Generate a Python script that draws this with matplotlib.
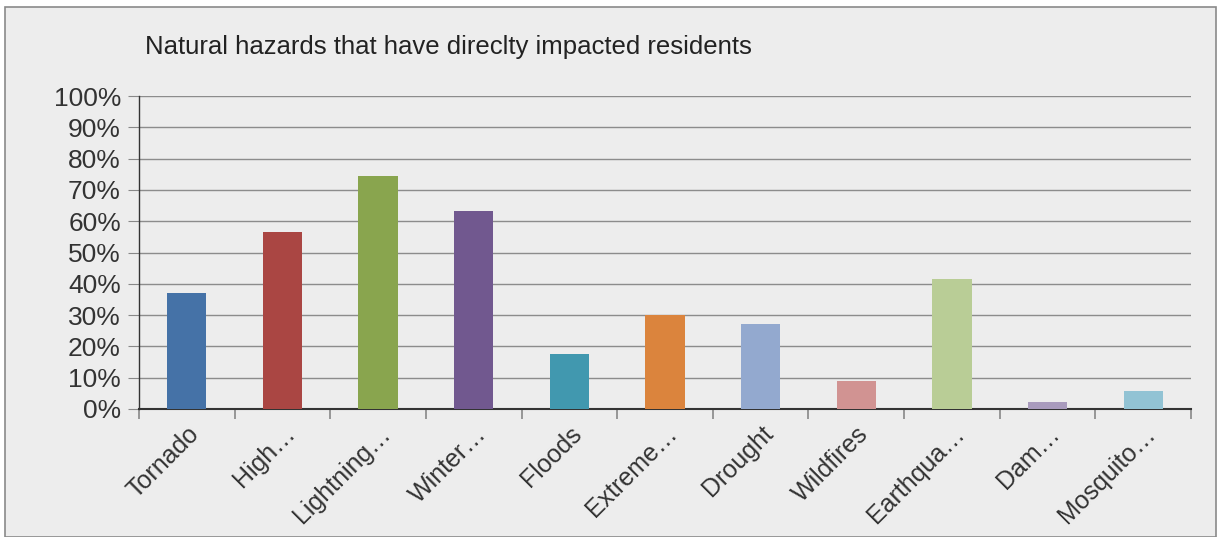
import numpy as np
import matplotlib
matplotlib.use('Agg')
import matplotlib.pyplot as plt
import matplotlib.ticker
from matplotlib.patches import Rectangle

# data
categories = ['Tornado', 'High…', 'Lightning…', 'Winter…', 'Floods', 'Extreme…',
              'Drought', 'Wildfires', 'Earthqua…', 'Dam…', 'Mosquito…']
values = [37.0, 56.5, 74.4, 63.2, 17.6, 30.0, 27.2, 9.0, 41.5, 2.2, 5.8]
colors = ['#4572A7', '#AA4643', '#89A54E', '#71588F', '#4198AF', '#DB843D',
          '#93A9CF', '#D19392', '#B9CD96', '#A99BBD', '#92C3D4']
title = "Natural hazards that have direclty impacted residents"

BG = '#ededed'
plt.rcParams['font.family'] = ['Liberation Sans', 'DejaVu Sans']

fig = plt.figure(figsize=(12.22, 5.37), dpi=100)
fig.patch.set_facecolor('white')
fig.patches.append(Rectangle((5 / 1222, 0), 1211 / 1222, 530 / 537, transform=fig.transFigure,
                             facecolor=BG, edgecolor='#8a8a8a', linewidth=1.2, zorder=-1))

ax = fig.add_axes([139 / 1222, 1 - 409 / 537, 1052 / 1222, 313 / 537])
ax.set_zorder(2)
ax.set_facecolor(BG)
x = np.arange(len(categories))
ax.bar(x, values, width=0.41, color=colors, zorder=3)

ax.set_xlim(-0.5, len(categories) - 0.5)
ax.set_ylim(0, 100)
ax.yaxis.set_major_locator(matplotlib.ticker.MultipleLocator(10))
ax.yaxis.set_major_formatter(matplotlib.ticker.FuncFormatter(lambda v, _: f'{v:.0f}%'))
ax.grid(True, axis='y', color='#8c8c8c', linewidth=1.0, zorder=1)

for side in ['top', 'right']:
    ax.spines[side].set_visible(False)
ax.spines['left'].set_color('#333333')
ax.spines['bottom'].set_color('#333333')
ax.spines['left'].set_linewidth(1.0)
ax.spines['bottom'].set_linewidth(1.5)

ax.set_xticks(x)
ax.set_xticklabels(categories, rotation=45, ha='right', rotation_mode='anchor')
ax.set_xticks(np.arange(len(categories) + 1) - 0.5, minor=True)
ax.tick_params(axis='x', which='major', length=0, labelsize=18, colors='#333333', pad=9)
ax.tick_params(axis='x', which='minor', length=7, color='#888888', width=1.2)
ax.tick_params(axis='y', length=8, color='#888888', labelsize=19, labelcolor='#333333', pad=5)

fig.text(145 / 1222, 1 - 47 / 537, title, fontsize=18.5, color='#222222', va='center', ha='left')

fig.savefig('out.png', dpi=100, facecolor=fig.get_facecolor())
